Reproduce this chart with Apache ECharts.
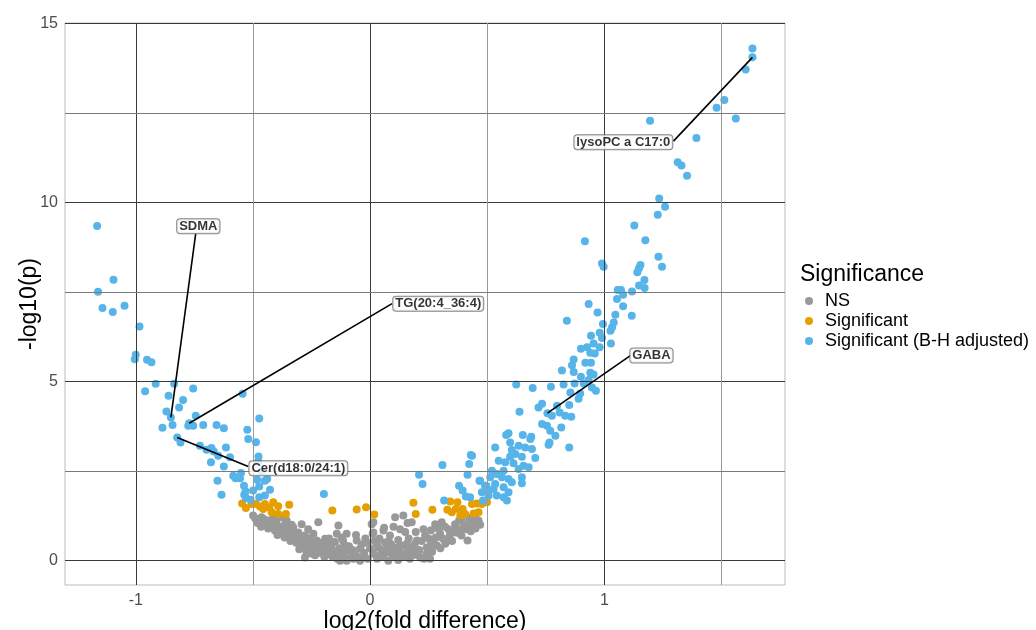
<!DOCTYPE html>
<html><head><meta charset="utf-8">
<script src="https://cdn.jsdelivr.net/npm/echarts@6/dist/echarts.min.js"></script>
<style>html,body{margin:0;padding:0;background:#fff}#c{width:1036px;height:630px}</style>
</head><body><div id="c"></div>
<script>
const seriesNames = ['NS', 'Significant', 'Significant (B-H adjusted)'];
const xTicks = [-1, 0, 1];
const yTicks = [0, 5, 10, 15];
const xMinor = [-0.5, 0.5, 1.5];
const yMinor = [2.5, 7.5, 12.5];

const nsPoints = [
[-0.499,1.26],[-0.463,1.21],[-0.456,1.07],[-0.427,1.12],[-0.441,0.98],[-0.413,1.02],[-0.406,0.84],[-0.392,0.88],[-0.363,1.02],[-0.370,0.79],[-0.349,0.88],[-0.342,0.70],[-0.328,0.93],[-0.321,0.61],[-0.306,0.79],[-0.292,0.56],[-0.278,0.70],[-0.264,0.88],[-0.256,0.51],[-0.242,0.75],[-0.221,1.07],[-0.228,0.56],[-0.214,0.42],[-0.278,0.09],[-0.271,0.23],[-0.302,0.32],[-0.192,0.61],[-0.171,0.47],[-0.157,0.28],[-0.142,0.75],[-0.135,0.98],[-0.121,0.65],[-0.100,0.75],[-0.107,0.42],[-0.085,0.28],[-0.078,0.14],[-0.057,0.56],[-0.043,0.33],[-0.029,0.09],[-0.014,0.51],[0.007,1.02],[0.011,0.75],[0.014,0.23],[-0.128,0.00],[-0.100,0.00],[-0.071,0.05],[-0.043,0.00],[-0.356,1.12],[-0.335,1.00],[-0.292,1.02],[-0.377,1.21],[-0.413,1.26],[-0.474,1.12],
[-0.385,0.95],[-0.35,0.78],[-0.33,0.82],[-0.31,0.68],[-0.30,0.58],[-0.285,0.62],[-0.27,0.45],[-0.26,0.62],[-0.25,0.35],[-0.24,0.44],[-0.235,0.30],[-0.22,0.38],[-0.205,0.50],[-0.20,0.25],[-0.19,0.33],[-0.18,0.18],[-0.175,0.62],[-0.165,0.38],[-0.16,0.10],[-0.15,0.52],[-0.145,0.20],[-0.13,0.35],[-0.125,0.12],[-0.115,0.55],[-0.11,0.25],[-0.095,0.05],[-0.09,0.40],[-0.075,0.30],[-0.065,0.18],[-0.06,0.72],[-0.05,0.10],[-0.035,0.45],[-0.025,0.22],[-0.02,0.62],[-0.01,0.05],[0.0,0.35],
[-0.49,1.18],[-0.48,1.05],[-0.465,0.95],[-0.45,1.15],[-0.435,0.90],[-0.42,0.95],[-0.40,1.10],[-0.395,0.72],[-0.38,0.82],[-0.365,0.65],[-0.355,0.92],[-0.34,0.55],[-0.32,0.72],[-0.315,0.50],[-0.295,0.45],[-0.28,0.38],[-0.265,0.30],[-0.25,0.20],[-0.235,0.15],[-0.215,0.22],[-0.195,0.10],[-0.185,0.45],[-0.17,0.28],[-0.14,0.05],[-0.115,0.15],
[0.014,1.07],[0.014,0.79],[0.057,0.84],[0.107,1.21],[0.142,1.26],[0.178,1.07],[0.128,0.88],[0.085,0.70],[0.064,0.51],[0.035,0.37],[0.014,0.19],[0.071,0.23],[0.114,0.37],[0.107,0.14],[0.157,0.47],[0.150,0.19],[0.200,0.56],[0.185,0.28],[0.214,0.09],[0.256,0.05],[0.235,0.70],[0.228,0.88],[0.278,1.02],[0.306,1.07],[0.335,0.88],[0.299,0.75],[0.271,0.56],[0.321,0.47],[0.363,1.02],[0.385,0.88],[0.413,0.88],[0.392,1.12],[0.424,1.19],[0.463,1.12],[0.416,0.56],[0.242,0.37],[0.078,0.0],
[0.03,0.05],[0.045,0.15],[0.05,0.30],[0.09,0.45],[0.095,0.10],[0.12,0.58],[0.13,0.22],[0.135,0.42],[0.165,0.62],[0.17,0.35],[0.19,0.45],[0.195,0.80],[0.21,0.30],[0.22,0.55],[0.25,0.62],[0.26,0.85],[0.265,0.25],[0.285,0.42],[0.29,0.90],[0.31,0.62],[0.32,0.95],[0.34,0.70],[0.35,0.55],[0.37,0.78],[0.38,1.12],[0.40,0.98],[0.44,1.02],[0.45,0.90],[0.02,0.55],[0.04,0.62],[0.06,0.92],[0.10,0.95],[0.15,0.80],[0.16,1.05],[0.075,0.40],[0.205,0.15],[0.23,0.05],[0.17,0.05],[0.12,0.02],[0.09,0.28],
[0.03,0.45],[0.055,0.12],[0.08,0.55],[0.10,0.32],[0.14,0.10],[0.16,0.30],[0.18,0.15],[0.24,0.18],[0.26,0.45],[0.28,0.65],[0.30,0.35],[0.33,0.60],[0.36,0.85],[0.39,0.70],[0.42,1.00],[0.43,0.82],[0.45,1.18],[0.47,1.00]
];

const sigPoints = [
[-0.546,1.60],[-0.530,1.47],[-0.506,1.58],[-0.487,1.58],[-0.470,1.51],[-0.449,1.58],[-0.430,1.49],[-0.413,1.63],[-0.392,1.52],[-0.345,1.56],[-0.456,1.44],[-0.392,1.30],[-0.359,1.30],[-0.420,1.35],[-0.161,1.40],[-0.057,1.43],[-0.017,1.49],[0.018,1.29],
[0.185,1.62],[0.195,1.30],[0.266,1.42],[0.342,1.65],[0.330,1.42],[0.373,1.63],[0.366,1.44],[0.349,1.35],[0.395,1.44],[0.406,1.30],[0.435,1.58],[0.456,1.60],[0.477,1.58],[0.499,1.63],[0.463,1.35],[0.442,1.32],[0.385,1.26]
];

const bhPoints = [
[1.632,14.31],[1.632,14.06],[1.603,13.72],[1.512,12.87],[1.479,12.65],[1.561,12.35],[1.195,12.29],[1.393,11.81],[1.313,11.13],[1.329,11.04],[1.353,10.75],[1.234,10.12],[1.259,9.89],[1.228,9.66],[1.128,9.36],[0.917,8.92],[1.175,8.95],[0.990,8.30],[0.997,8.21],[1.231,8.49],[1.246,8.21],[1.154,8.26],[1.148,8.17],[1.141,8.06],[1.171,7.84],[1.148,7.69],[1.172,7.62],[1.057,7.56],[1.071,7.56],[1.080,7.43],[1.118,7.52],[1.054,7.31],[1.080,7.11],[0.933,7.17],[0.971,6.93],[1.117,6.84],[1.047,6.87],[0.840,6.70],[0.994,6.61],[1.040,6.65],[1.033,6.52],[1.026,6.42],[0.980,6.37],[0.943,6.28],[0.990,6.22],[0.954,6.07],[0.980,5.96],[0.926,5.96],[0.900,5.92],[1.028,6.07],[0.940,5.81],[0.959,5.79],[0.869,5.62],[0.862,5.46],[0.919,5.53],[0.943,5.53],[0.819,5.31],[0.869,5.27],[0.940,5.25],[0.954,5.20],[0.900,5.14],
[0.624,4.92],[0.694,4.82],[0.772,4.86],[0.826,4.92],[0.873,4.95],[0.912,4.95],[0.933,5.05],[0.947,4.84],[0.964,4.75],[0.855,4.70],[0.897,4.67],[0.890,4.52],[0.850,4.35],[0.798,4.33],[0.734,4.38],[0.719,4.28],[0.638,4.16],[0.757,4.12],[0.776,4.05],[0.809,4.14],[0.833,4.05],[0.859,4.02],[0.734,3.82],[0.755,3.77],[0.816,3.72],[0.769,3.63],[0.791,3.49],[0.766,3.30],[0.762,3.24],[0.850,3.16],[0.581,3.51],[0.591,3.56],[0.652,3.51],[0.688,3.46],[0.684,3.40],[0.598,3.30],[0.534,3.16],[0.634,3.21],[0.662,3.16],[0.691,3.12],[0.605,3.09],[0.620,2.98],[0.648,2.90],[0.705,2.87],[0.598,2.90],[0.549,2.79],[0.577,2.75],[0.612,2.72],[0.655,2.65],[0.677,2.61],[0.634,2.56],[0.570,2.51],[0.520,2.51],[0.541,2.42],[0.513,2.33],[0.563,2.33],[0.591,2.28],[0.648,2.33],[0.605,2.19],[0.648,2.16],[0.470,2.23],[0.534,2.14],[0.491,2.09],[0.527,2.00],[0.570,2.05],[0.591,1.91],[0.477,1.91],[0.506,1.82],[0.541,1.82],[0.570,1.77],[0.584,1.68],[0.435,2.93],
[0.430,2.95],[0.309,2.67],[0.423,2.70],[0.209,2.40],[0.224,2.14],[0.416,2.40],[0.380,2.09],[0.395,1.96],[0.467,2.23],[0.496,2.09],[0.409,1.79],[0.427,1.77],[0.316,1.68],[0.482,1.68],[0.506,1.93],
[-1.165,9.35],[-1.095,7.85],[-1.161,7.51],[-1.142,7.06],[-1.098,6.95],[-1.048,7.12],[-0.984,6.54],[-1.000,5.75],[-1.004,5.63],[-0.952,5.61],[-0.933,5.54],[-0.915,4.94],[-0.836,4.94],[-0.755,4.81],[-0.960,4.73],[-0.860,4.61],[-0.798,4.49],[-0.815,4.28],[-0.869,4.17],[-0.850,4.00],[-0.886,3.71],[-0.843,3.79],[-0.772,3.84],[-0.776,3.77],[-0.755,3.77],[-0.744,4.05],[-0.712,3.79],[-0.655,3.79],[-0.624,3.70],[-0.544,4.66],[-0.473,3.97],[-0.524,3.66],[-0.520,3.40],[-0.823,3.44],[-0.809,3.30],[-0.726,3.21],[-0.698,3.10],[-0.677,3.15],[-0.667,3.05],[-0.615,3.16],[-0.648,2.93],[-0.679,2.75],[-0.598,2.89],[-0.624,2.63],[-0.584,2.37],[-0.574,2.30],[-0.551,2.45],[-0.651,2.23],[-0.634,1.84],[-0.538,2.09],[-0.531,1.93],[-0.537,1.84],[-0.476,2.91],[-0.477,2.77],[-0.482,2.26],[-0.439,2.28],[-0.449,2.23],[-0.473,2.07],[-0.499,1.96],[-0.427,1.98],[-0.473,1.77],[-0.449,1.82],[-0.463,2.49],[-0.487,3.31],[-0.197,1.86],[-0.555,2.30],[-0.510,1.70],[-0.530,1.75]
];

// annotations: name, point [x,y], label centre [x,y], segment end at label edge [x,y]
const annNames = ['SDMA', 'lysoPC a C17:0', 'TG(20:4_36:4)', 'GABA', 'Cer(d18:0/24:1)'];
const annPoints = [[-0.850,4.00],[1.632,14.06],[-0.772,3.84],[0.757,4.12],[-0.823,3.44]];
const annLabels = [[-0.733,9.34],[1.081,11.69],[0.291,7.18],[1.201,5.73],[-0.306,2.58]];
const annEnds = [[-0.744,9.14],[1.295,11.72],[0.094,7.18],[1.111,5.73],[-0.520,2.63]];

const colors = ['#999999', '#E69F00', '#56B4E9'];
const FONT = '"Liberation Sans", Arial, sans-serif';

const gridLines = [];
const noLbl = {show: false};
xTicks.forEach(v => gridLines.push({xAxis: v, label: noLbl, lineStyle: {color: '#3a3a3a', width: 1, type: 'solid'}}));
yTicks.forEach(v => gridLines.push({yAxis: v, label: noLbl, lineStyle: {color: '#3a3a3a', width: 1, type: 'solid'}}));
xMinor.forEach(v => gridLines.push({xAxis: v, label: noLbl, lineStyle: {color: '#9a9a9a', width: 1, type: 'solid'}}));
yMinor.forEach(v => gridLines.push({yAxis: v, label: noLbl, lineStyle: {color: '#7a7a7a', width: 1, type: 'solid'}}));

const chart = echarts.init(document.getElementById('c'), null, {renderer: 'canvas'});
chart.setOption({
  animation: false,
  backgroundColor: '#ffffff',
  textStyle: {fontFamily: FONT},
  grid: {left: 65, right: 251, top: 23, bottom: 45, outerBoundsMode: 'none', containLabel: false,
         show: true, borderColor: '#bbbbbb', borderWidth: 1, backgroundColor: 'transparent'},
  title: {text: 'Significance', left: 795, top: 258, textStyle: {fontFamily: FONT, fontSize: 23, fontWeight: 'normal', color: '#000'}},
  legend: {
    orient: 'vertical', left: 800, top: 287, itemWidth: 8, itemHeight: 8, itemGap: 2,
    icon: 'circle', data: seriesNames,
    textStyle: {fontFamily: FONT, fontSize: 18, color: '#000', lineHeight: 17.5, padding: [0, 0, 0, 7]}
  },
  xAxis: {
    type: 'value', min: -1.302, max: 1.771,
    splitLine: {show: false}, axisLine: {show: false}, axisTick: {show: false},
    axisLabel: {customValues: xTicks, fontSize: 16, color: '#4d4d4d', margin: 8, fontFamily: FONT},
    name: 'log2(fold difference)', nameLocation: 'middle', nameGap: 25, nameMoveOverlap: false,
    nameTextStyle: {fontSize: 23, color: '#000', fontFamily: FONT}
  },
  yAxis: {
    type: 'value', min: -0.68, max: 15.02,
    splitLine: {show: false}, axisLine: {show: false}, axisTick: {show: false},
    axisLabel: {customValues: yTicks, fontSize: 16, color: '#4d4d4d', margin: 7, fontFamily: FONT},
    name: '-log10(p)', nameLocation: 'middle', nameGap: 24, nameMoveOverlap: false,
    nameTextStyle: {fontSize: 23, color: '#000', fontFamily: FONT}
  },
  series: [
    {type: 'scatter', data: [], silent: true, z: 1, label: {show: false},
     markLine: {silent: true, symbol: 'none', label: {show: false}, animation: false, data: gridLines}},
    {name: seriesNames[0], type: 'scatter', data: nsPoints, symbolSize: 8, z: 3, itemStyle: {color: colors[0], opacity: 1}},
    {name: seriesNames[1], type: 'scatter', data: sigPoints, symbolSize: 8, z: 3, itemStyle: {color: colors[1], opacity: 1}},
    {name: seriesNames[2], type: 'scatter', data: bhPoints, symbolSize: 8, z: 3, itemStyle: {color: colors[2], opacity: 1}},
    {type: 'lines', coordinateSystem: 'cartesian2d', z: 5, silent: true, label: {show: false},
     lineStyle: {color: '#000', width: 1.6, opacity: 1},
     data: annPoints.map((p, i) => ({coords: [p, annEnds[i]]}))},
    {type: 'scatter', z: 6, silent: true, symbolSize: 0,
     data: annLabels.map((p, i) => ({name: annNames[i], value: p})),
     label: {show: true, position: 'inside', formatter: '{b}', fontFamily: FONT, fontWeight: 'bold', fontSize: 13, color: '#000',
       backgroundColor: '#fff', borderColor: '#666', borderWidth: 1, borderRadius: 3, padding: [1, 2, 0, 2]}}
  ]
});
</script></body></html>
